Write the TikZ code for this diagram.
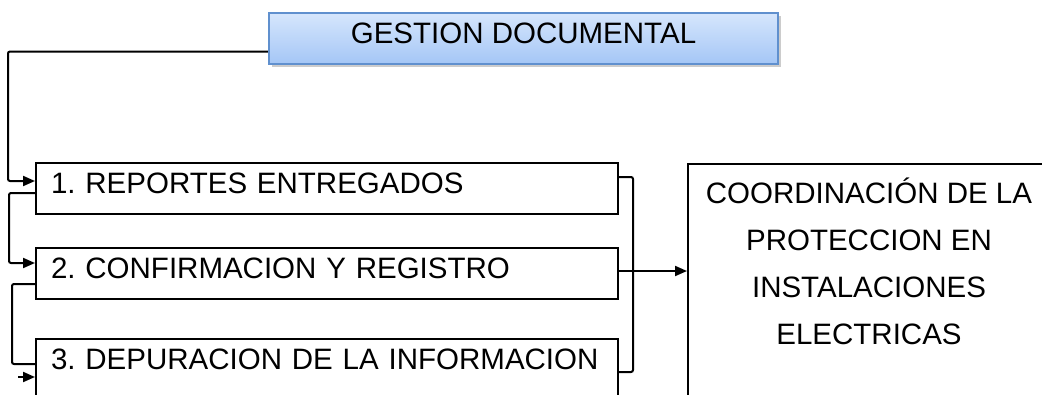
\documentclass[tikz,border=0pt]{standalone}
\usepackage{fontspec}
\setmainfont{Liberation Sans}
\usepackage{tikz}
\definecolor{white}{rgb}{1.0, 1.0, 1.0}
\definecolor{black}{rgb}{0.0, 0.0, 0.0}
\definecolor{skytop}{RGB}{214,230,252}
\definecolor{skybot}{RGB}{164,198,246}
\definecolor{skyline}{RGB}{96,144,206}
\usetikzlibrary{arrows.meta}
\usetikzlibrary{shadows}
\pgfdeclarelayer{edgelayer}
\pgfdeclarelayer{nodelayer}
\pgfsetlayers{edgelayer,nodelayer,main}
\frenchspacing
\hyphenpenalty=10000
\tikzstyle{frame}=[rectangle,fill=white,draw=black,line width=2pt]
\tikzstyle{box}=[frame,inner ysep=0pt,text height=30.5pt,text depth=20.5pt]
\tikzstyle{item}=[box,anchor=north west,text width=552pt,inner xsep=15pt,align=left]
\tikzstyle{head}=[box,draw=skyline,top color=skytop,bottom color=skybot,minimum width=509pt,drop shadow={shadow xshift=2.5pt,shadow yshift=-3pt,opacity=0.4}]
\tikzstyle{wire}=[line width=2pt,rounded corners=2pt]
\tikzstyle{conn}=[wire,-{Triangle[length=12pt,width=10pt]}]

\begin{document}
\begin{tikzpicture}[x=1pt,y=-1pt,font=\fontsize{29.5pt}{47pt}\selectfont]
        \useasboundingbox (0,0) rectangle (1042,394);
        \begin{pgfonlayer}{nodelayer}
            \node [style = head] (gest) at (523.5, 38.5) {GESTION DOCUMENTAL};
            \node [style = item] (box1) at (35, 162) {1. REPORTES ENTREGADOS};
            \node [style = item] (box2) at (35, 247) {2. CONFIRMACION Y REGISTRO};
            \node [style = item, text depth=80pt] (box3) at (35, 338) {3. DEPURACION DE LA INFORMACION};
            \node [style = frame, anchor=north west, minimum width=400pt, minimum height=260pt] (prot) at (687, 163) {};
            \node [align=center, inner sep=0pt] (protText) at (869, 261) {COORDINACIÓN DE LA\\PROTECCION EN\\INSTALACIONES\\ELECTRICAS};
        \end{pgfonlayer}

        \coordinate (t0) at (8, 181);
        \coordinate (l1) at (9, 263);
        \coordinate (l2) at (12, 364);
        \coordinate (l3) at (18, 377);
        \coordinate (a2) at ([yshift=2.5pt]box2.east);
        \coordinate (brTop) at (619, 177);
        \coordinate (brBot) at (619, 372);

        \begin{pgfonlayer}{edgelayer}
            \draw [style = conn] ([yshift=-13pt]gest.west) -| (t0) -- (t0 -| box1.west);
            \draw [style = conn] ([yshift=-4.5pt]box1.west) -| (l1) -- (l1 -| box2.west);
            \draw [style = wire] ([yshift=-10.5pt]box2.west) -| (l2) -- (l2 -| box3.west);
            \draw [style = conn] (l3) -- (l3 -| box3.west);
            \draw [style = wire] (brTop) -- ++(14, 0) |- (brBot);
            \draw [style = conn] (a2) -- (a2 -| prot.west);
        \end{pgfonlayer}
    \end{tikzpicture}
\end{document}
